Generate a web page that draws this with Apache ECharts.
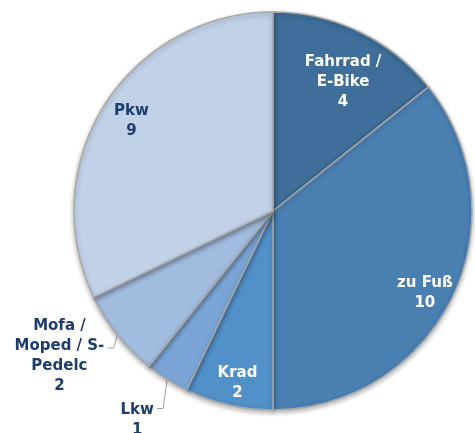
<!DOCTYPE html>
<html>
<head>
<meta charset="utf-8">
<script src="https://cdn.jsdelivr.net/npm/echarts@6/dist/echarts.min.js"></script>
<style>
html, body { margin: 0; padding: 0; background: #fff; }
#main { width: 475px; height: 433px; }
</style>
</head>
<body>
<div id="main"></div>
<script>
// Verkehrsmittel und Anzahl
var names = ['Fahrrad /\nE-Bike', 'zu Fuß', 'Krad', 'Lkw', 'Mofa /\nMoped / S-\nPedelc', 'Pkw'];
var values = [4, 10, 2, 1, 2, 9];
var colors = ['#3e6e99', '#4a7fb2', '#5290c9', '#7aa5d6', '#a2bcdf', '#c0d1e8'];
var outside = [false, false, false, true, true, false];
var darkText = [false, false, false, true, true, true];
var boxWidth = [95, 95, 95, 34, 90, 95];

// Feinschliff der Beschriftungen
var shiftX = [0, -4, 3, 0, 0, 5];
var shiftY = [0, 7, 3, 0, 0, 2];
var lineDrop = [0, 0, 0, 29, 13, 0];
var textDrop = [0, 0, 0, 12, 8, 0];

var navy = '#1d3e6c';

var sliceData = [];
var labelData = [];
for (var i = 0; i < names.length; i++) {
	sliceData.push({
		name: names[i],
		value: values[i],
		itemStyle: { color: colors[i] }
	});
	var lines = (names[i] + '\n' + values[i]).split('\n');
	var lbl = {
		show: true,
		position: outside[i] ? 'outside' : 'inside',
		color: darkText[i] ? navy : '#fff',
		formatter: lines.map(function (s) { return '{c|' + s + '}'; }).join('\n'),
		rich: {
			c: {
				fontFamily: 'DejaVu Sans',
				fontWeight: 'bold',
				fontSize: 15,
				lineHeight: 20,
				width: boxWidth[i],
				align: 'center'
			}
		}
	};
	if (i === 0) {
		lbl.padding = [54, 10, 0, 0]; // naeher zur Mitte
	}
	labelData.push({
		name: names[i],
		value: values[i],
		label: lbl,
		labelLine: {
			show: outside[i],
			length: 12,
			length2: 6
		}
	});
}

function layoutLabel(params) {
	if (params.seriesIndex !== 1) return {};
	var k = params.dataIndex;
	if (!outside[k] || !params.labelLinePoints) {
		return { dx: shiftX[k], dy: shiftY[k] };
	}
	var p0 = params.labelLinePoints[0];
	var p1 = [p0[0] - 4, p0[1] + lineDrop[k]];
	var p2 = [p1[0] - 6, p1[1]];
	return {
		x: p2[0] - 3,
		y: p2[1] + textDrop[k],
		align: 'right',
		verticalAlign: 'middle',
		labelLinePoints: [p0, p1, p2]
	};
}

var myChart = echarts.init(document.getElementById('main'));
var option = {
	animation: false,
	series: [{
		type: 'pie',
		center: [273, 211],
		radius: [0, 199],
		startAngle: 90,
		clockwise: true,
		silent: true,
		label: { show: false },
		labelLine: { show: false },
		itemStyle: {
			borderColor: '#a8a8a8',
			borderWidth: 1.5,
			shadowBlur: 5,
			shadowOffsetY: 2,
			shadowColor: 'rgba(0,0,0,0.3)'
		},
		data: sliceData
	}, {
		type: 'pie',
		center: [273, 211],
		radius: [141, 199],
		startAngle: 90,
		clockwise: true,
		silent: true,
		avoidLabelOverlap: false,
		itemStyle: { color: 'rgba(0,0,0,0)' },
		label: {
			fontFamily: 'DejaVu Sans',
			fontWeight: 'bold',
			fontSize: 15,
			lineHeight: 20,
			distanceToLabelLine: 4,
			bleedMargin: 0,
			overflow: 'none'
		},
		labelLine: {
			lineStyle: { color: '#a0a0a0', width: 1 }
		},
		labelLayout: layoutLabel,
		data: labelData
	}]
};
myChart.setOption(option);
</script>
</body>
</html>
